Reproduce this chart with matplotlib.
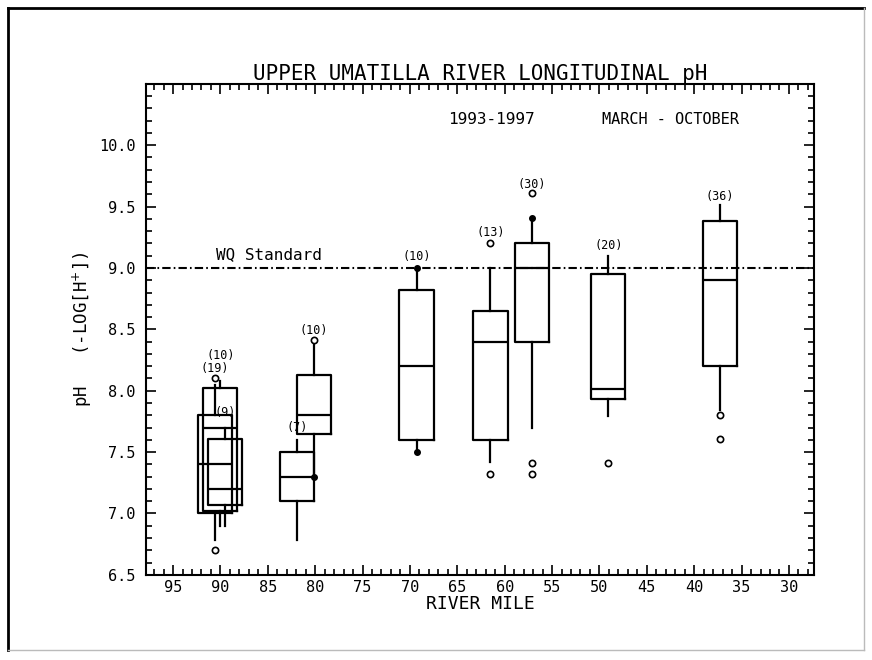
import matplotlib
matplotlib.use('Agg')
import matplotlib.pyplot as plt
from matplotlib.lines import Line2D
from matplotlib.ticker import MultipleLocator

matplotlib.rcParams['font.family'] = 'DejaVu Sans Mono'
matplotlib.rcParams['mathtext.fontset'] = 'dejavusans'
matplotlib.rcParams.update({'font.size': 11})
matplotlib.rcParams['axes.linewidth'] = 1.5

# %% data (river mile, pH)
river_mile = [90.0, 90.6, 89.5, 81.9, 80.1, 69.3, 61.5, 57.1, 49.05, 37.25]
q1 = [7.02, 7.00, 7.07, 7.10, 7.65, 7.60, 7.60, 8.40, 7.93, 8.20]
med = [7.70, 7.40, 7.20, 7.30, 7.80, 8.20, 8.40, 9.00, 8.01, 8.90]
q3 = [8.02, 7.80, 7.61, 7.50, 8.13, 8.82, 8.65, 9.20, 8.95, 9.38]
wlo = [6.90, 6.78, 6.90, 6.78, 7.30, 7.50, 7.42, 7.70, 7.79, 7.84]
whi = [8.08, 8.05, 7.70, 7.60, 8.41, 9.00, 9.00, 9.41, 9.10, 9.51]
outliers = [[], [8.10, 6.70], [], [], [8.41], [], [9.20, 7.32], [9.61, 7.41, 7.32], [7.41], [7.80, 7.61]]
n_obs = [10, 19, 9, 7, 10, 10, 13, 30, 20, 36]
# whisker ends drawn with a filled dot
dot_mile = [69.3, 69.3, 57.1, 80.1]
dot_ph = [9.00, 7.50, 9.41, 7.30]

wq_standard = 9.0
xticks = [95, 90, 85, 80, 75, 70, 65, 60, 55, 50, 45, 40, 35, 30]
yticks = [6.5, 7.0, 7.5, 8.0, 8.5, 9.0, 9.5, 10.0]

# %% plot
fig = plt.figure(figsize=(8.72, 6.6), dpi=100)
ax = fig.add_axes([0.168, 0.129, 0.765, 0.744])

stats = []
for i in range(len(river_mile)):
    stats.append(dict(med=med[i], q1=q1[i], q3=q3[i], whislo=wlo[i], whishi=whi[i], fliers=outliers[i]))
lw = 1.6
ax.bxp(stats, positions=river_mile, widths=3.6, showcaps=False, manage_ticks=False,
       boxprops=dict(color='k', lw=lw), medianprops=dict(color='k', lw=lw),
       whiskerprops=dict(color='k', lw=lw),
       flierprops=dict(marker='o', mfc='white', mec='k', ms=4.5, mew=1.2))
ax.plot(dot_mile, dot_ph, 'o', color='k', ms=4, zorder=5)

ax.axhline(wq_standard, color='k', lw=1.5, dashes=(4, 1.5, 0.8, 1.5), zorder=1)
ax.text(90.5, wq_standard + 0.05, 'WQ Standard', fontsize=11.5, ha='left', va='bottom')

# sample counts above each box
tops = [max([whi[i]] + outliers[i]) for i in range(len(river_mile))]
lab_off = [0.21, 0.08, 0.12, 0.1, 0.08, 0.09, 0.09, 0.07, 0.08, 0.07]
for i in range(len(river_mile)):
    ax.text(river_mile[i], tops[i] + lab_off[i], '(%d)' % n_obs[i], fontsize=8.5,
            ha='center', va='center')

ax.text(61.4, 10.21, '1993-1997', fontsize=11.5, ha='center', va='center')
ax.text(42.5, 10.21, 'MARCH - OCTOBER', fontsize=11, ha='center', va='center')

ax.set_xlim(97.8, 27.4)
ax.set_ylim(6.5, 10.5)
ax.set_xticks(xticks)
ax.set_xticklabels([str(t) for t in xticks], fontsize=11)
ax.set_yticks(yticks)
ax.set_yticklabels(['%.1f' % t for t in yticks], fontsize=11)
ax.xaxis.set_minor_locator(MultipleLocator(1))
ax.yaxis.set_minor_locator(MultipleLocator(0.1))
ax.tick_params(which='both', direction='in', top=True, right=True, width=1.2)
ax.tick_params(which='major', length=7)
ax.tick_params(which='minor', length=4)
ax.tick_params(axis='y', pad=8)
ax.tick_params(axis='x', pad=4)

ax.set_title('UPPER UMATILLA RIVER LONGITUDINAL pH', fontsize=15, pad=3)
ax.set_xlabel('RIVER MILE', fontsize=13, labelpad=0)
ax.set_ylabel(r'pH   (-LOG[H$^{+}$])', fontsize=12.5)
ax.yaxis.set_label_coords(-0.078, 0.5)

# frame round the picture
W, H = 872.0, 660.0
fig.add_artist(Line2D([8 / W, 864 / W], [1 - 8 / H, 1 - 8 / H], color='k', lw=2))
fig.add_artist(Line2D([8 / W, 8 / W], [1 - 8 / H, 1 - 650 / H], color='k', lw=2))
fig.add_artist(Line2D([864 / W, 864 / W], [1 - 8 / H, 1 - 650 / H], color='#bbbbbb', lw=1))
fig.add_artist(Line2D([8 / W, 864 / W], [1 - 650 / H, 1 - 650 / H], color='#bbbbbb', lw=1))

plt.savefig('out.png', dpi=100)
plt.close()
